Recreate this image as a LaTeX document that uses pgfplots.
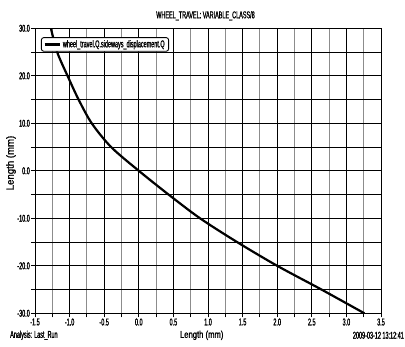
\documentclass[border=0pt]{standalone}
\usepackage{fontspec}
\setmainfont{Liberation Sans}[FakeStretch=0.55, FakeBold=1.2]
\newfontfamily\xlabfont{Liberation Sans}[FakeStretch=0.77, FakeBold=1.2]
\newfontfamily\ylabfont{Liberation Sans}[FakeStretch=0.92, FakeBold=1.2]
\usepackage{pgfplots}
\pgfplotsset{compat=1.18}
\pgfplotstableread{
x y
-1.27 30
-1.18 25
-1.03 20
-0.87 15
-0.68 10
-0.40 5
0.00 0
0.43 -5
0.885 -10
1.42 -15
2.00 -20
2.64 -25
3.26 -30
}\curvedata
\begin{document}
\begin{tikzpicture}[x=1bp,y=1bp]
\begin{axis}[
  at={(0,0)}, anchor=south west,
  scale only axis, width=346bp, height=285bp,
  xmin=-1.5, xmax=3.5, ymin=-30, ymax=30,
  xtick={-1.5,-1.0,-0.5,0,0.5,1.0,1.5,2.0,2.5,3.0,3.5},
  xticklabels={-1.5,-1.0,-0.5,0.0,0.5,1.0,1.5,2.0,2.5,3.0,3.5},
  minor xtick={-1.25,-0.75,-0.25,0.25,0.75,1.25,1.75,2.25,2.75,3.25},
  ytick={-30,-25,-20,-15,-10,-5,0,5,10,15,20,25,30},
  yticklabels={-30.0,,-20.0,,-10.0,,0.0,,10.0,,20.0,,30.0},
  tick pos=left,
  grid=both,
  major grid style={black, line width=0.9bp},
  minor grid style={black!45, line width=0.9bp},
  axis line style={black, line width=0.9bp},
  tick align=outside, major tick length=4bp, minor tick length=4bp,
  every tick/.style={black, line width=0.9bp},
  tick label style={font=\fontsize{10}{11}\selectfont},
  xticklabel style={inner sep=1bp},
  yticklabel style={inner sep=1bp},
  legend style={at={(0.017,0.969)}, anchor=north west, rounded corners=2.5bp,
    draw=black, line width=0.9bp, font=\fontsize{10}{11}\selectfont,
    inner xsep=2bp, inner ysep=0.5bp},
  legend cell align=left,
  legend image code/.code={\draw[black, line width=2.6bp] (0bp,0bp) -- (15bp,0bp);},
]
\addplot[black, line width=2.2bp, smooth] table[x=x, y=y] {\curvedata};
\addlegendentry{wheel\_travel.Q.sideways\_displacement.Q}
\end{axis}
\node[font=\fontsize{10}{11}\selectfont] at (170.5,297.6) {WHEEL\_TRAVEL: VARIABLE\_CLASS/8};
\node[font=\xlabfont\fontsize{10}{11}\selectfont] at (166.7,-22) {Length (mm)};
\node[font=\fontsize{10}{11}\selectfont, anchor=west, inner sep=0pt] at (-25,-22) {Analysis: Last\_Run};
\node[font=\fontsize{10}{11}\selectfont, anchor=east, inner sep=0pt] at (369,-22) {2009-03-12 13:12:41};
\node[font=\ylabfont\fontsize{10.5}{11}\selectfont, rotate=90] at (-24,150.3) {Length (mm)};
\pgfresetboundingbox
\path[use as bounding box] (-35,-33.7) rectangle (370,313.3);
\end{tikzpicture}
\end{document}
